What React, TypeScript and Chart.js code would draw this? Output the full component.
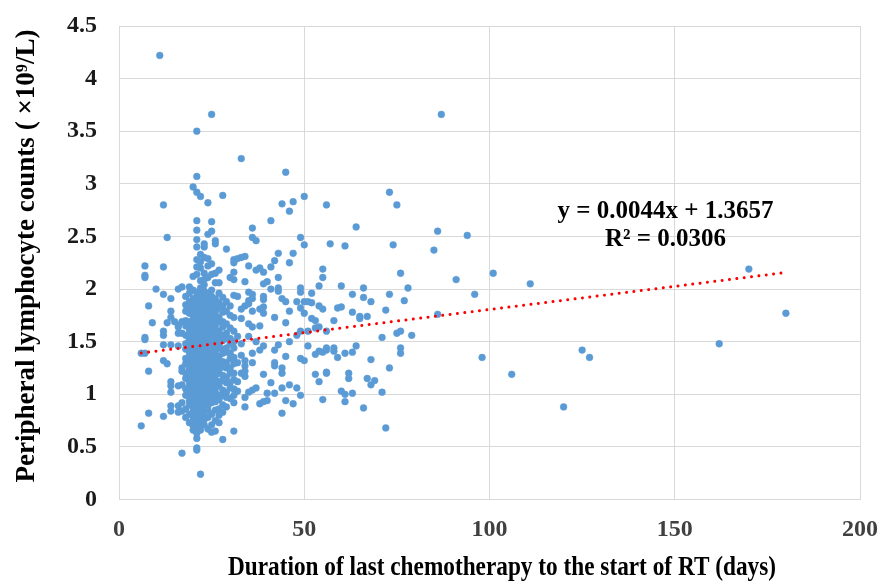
import React, { useEffect, useRef } from 'react';
import { Chart, registerables } from 'chart.js';

Chart.register(...registerables);

// ---- Data ----
// Scattered patients (days since last chemotherapy, lymphocyte count ×10^9/L)
const sparseDays = [
  11, 25, 21, 33, 45, 21, 20, 21, 22, 28,
  12, 24, 44, 47, 50, 46, 56, 21, 25, 41,
  36, 21, 25, 24, 13, 21, 36, 37, 26, 26,
  23, 23, 49, 50, 57, 29, 43, 47, 22, 21,
  24, 31, 32, 33, 34, 31, 42, 46, 7, 12,
  22, 35, 38, 37, 41, 27, 26, 31, 7, 7,
  25, 24, 39, 43, 55, 55, 30, 31, 34, 27,
  40, 39, 17, 16, 10, 41, 43, 43, 49, 49,
  52, 54, 12, 14, 31, 32, 35, 36, 36, 35,
  35, 39, 39, 44, 45, 48, 50, 51, 52, 8,
  34, 33, 39, 54, 55, 49, 50, 14, 38, 36,
  46, 14, 9, 39, 42, 33, 31, 52, 53, 13,
  15, 16, 17, 12, 16, 35, 36, 38, 45, 7,
  49, 51, 53, 56, 54, 7, 12, 16, 17, 6,
  7, 12, 14, 16, 12, 13, 8, 17, 17, 14,
  14, 14, 16, 17, 17, 16, 14, 14, 16, 17,
  8, 12, 6, 24, 25, 26, 28, 31, 21, 21,
  17, 22, 26, 27, 31, 34, 34, 35, 36, 37,
  38, 39, 40, 44, 45, 47, 49, 42, 40, 32,
  32, 34, 34, 34, 34, 36, 36, 39, 41, 44,
  46, 48, 42, 42, 44, 44, 39, 42, 43, 49,
  50, 51, 53, 55, 56, 53, 54, 56, 55, 32,
  33, 33, 32, 33, 37, 38, 35, 48, 46, 45,
  87, 73, 75, 64, 61, 74, 85, 86, 94, 60,
  66, 76, 78, 91, 101, 111, 96, 63, 66, 73,
  68, 77, 59, 60, 72, 63, 65, 65, 67, 86,
  58, 75, 76, 71, 79, 64, 54, 56, 58, 58,
  59, 61, 63, 76, 76, 68, 73, 98, 106, 56,
  62, 62, 67, 69, 68, 60, 61, 61, 63, 71,
  66, 72, 170, 180, 162, 125, 127, 120,
];
const sparseCounts = [
  4.22, 3.66, 3.50, 3.24, 3.11, 3.07, 2.97, 2.92, 2.88, 2.89,
  2.80, 2.82, 2.81, 2.83, 2.88, 2.74, 2.80, 2.65, 2.64, 2.65,
  2.58, 2.56, 2.55, 2.52, 2.49, 2.47, 2.49, 2.46, 2.46, 2.43,
  2.43, 2.40, 2.49, 2.42, 2.43, 2.38, 2.34, 2.34, 2.33, 2.28,
  2.29, 2.28, 2.29, 2.30, 2.31, 2.25, 2.27, 2.25, 2.22, 2.21,
  2.20, 2.22, 2.20, 2.18, 2.21, 2.18, 2.15, 2.16, 2.13, 2.11,
  2.14, 2.11, 2.16, 2.11, 2.19, 2.11, 2.11, 2.09, 2.07, 2.06,
  2.07, 2.05, 2.02, 2.00, 2.00, 2.00, 2.01, 1.98, 2.01, 1.97,
  1.96, 2.03, 1.95, 1.91, 1.94, 1.93, 1.97, 1.95, 1.91, 1.89,
  1.86, 1.93, 1.90, 1.91, 1.88, 1.88, 1.88, 1.88, 1.87, 1.84,
  1.84, 1.81, 1.83, 1.84, 1.81, 1.82, 1.77, 1.79, 1.81, 1.79,
  1.79, 1.73, 1.68, 1.77, 1.73, 1.72, 1.73, 1.72, 1.70, 1.68,
  1.69, 1.66, 1.69, 1.60, 1.64, 1.67, 1.64, 1.65, 1.68, 1.54,
  1.60, 1.60, 1.63, 1.60, 1.64, 1.52, 1.56, 1.58, 1.58, 1.39,
  1.39, 1.47, 1.47, 1.46, 1.32, 1.29, 1.22, 1.25, 1.22, 1.12,
  1.08, 1.02, 1.08, 1.09, 0.92, 0.89, 0.89, 0.84, 0.83, 0.84,
  0.82, 0.79, 0.70, 0.67, 0.64, 0.65, 0.57, 0.65, 0.49, 0.47,
  0.44, 0.24, 0.75, 0.73, 0.92, 0.88, 0.97, 1.02, 1.04, 1.06,
  0.91, 0.93, 0.94, 0.82, 0.94, 0.91, 0.99, 1.01, 1.01, 1.03,
  1.12, 1.17, 1.22, 1.27, 1.32, 1.30, 1.39, 1.19, 1.11, 1.06,
  1.09, 1.06, 1.30, 1.27, 1.25, 1.20, 1.46, 1.42, 1.47, 1.34,
  1.32, 1.46, 1.38, 1.40, 1.42, 1.19, 1.12, 1.20, 0.95, 1.55,
  1.48, 1.37, 1.30, 1.20, 1.50, 1.42, 1.55, 1.56, 1.50, 1.36,
  3.66, 2.92, 2.80, 2.59, 2.41, 2.42, 2.37, 2.55, 2.51, 2.03,
  2.01, 2.15, 2.01, 2.09, 2.15, 2.05, 1.95, 1.95, 1.92, 1.95,
  1.88, 1.89, 1.82, 1.83, 1.80, 1.78, 1.74, 1.72, 1.74, 1.76,
  1.70, 1.58, 1.60, 1.54, 1.56, 1.46, 1.41, 1.44, 1.44, 1.41,
  1.35, 1.39, 1.40, 1.44, 1.39, 1.33, 1.25, 1.35, 1.19, 1.21,
  1.20, 1.15, 1.15, 1.13, 1.09, 1.03, 1.00, 0.93, 1.01, 1.02,
  0.87, 0.68, 2.19, 1.77, 1.48, 1.42, 1.35, 0.88,
];

// Dense cluster, one list of counts per day
const day18Counts = [1.93, 1.85, 1.79, 1.70, 1.65, 1.56, 1.48, 1.43, 1.34, 1.29, 1.20, 1.15, 1.05, 0.99, 0.86, 0.78];
const day19Counts = [2.02, 1.96, 1.88, 1.83, 1.80, 1.77, 1.69, 1.64, 1.61, 1.57, 1.52, 1.48, 1.44, 1.40, 1.36, 1.32, 1.28, 1.24, 1.19, 1.15, 1.11, 1.07, 1.02, 0.98, 0.94, 0.90, 0.81, 0.73];
const day20Counts = [2.12, 1.99, 1.91, 1.87, 1.83, 1.79, 1.75, 1.71, 1.68, 1.64, 1.60, 1.56, 1.53, 1.49, 1.45, 1.42, 1.38, 1.35, 1.31, 1.27, 1.24, 1.20, 1.16, 1.12, 1.09, 1.05, 1.02, 0.98, 0.94, 0.90, 0.87, 0.83, 0.79, 0.75, 0.70, 0.66];
const day21Counts = [2.40, 2.21, 2.14, 1.97, 1.93, 1.89, 1.86, 1.82, 1.78, 1.75, 1.71, 1.67, 1.63, 1.59, 1.56, 1.53, 1.50, 1.46, 1.43, 1.39, 1.36, 1.33, 1.29, 1.26, 1.23, 1.19, 1.15, 1.12, 1.08, 1.05, 1.01, 0.97, 0.94, 0.91, 0.87, 0.83, 0.80, 0.76, 0.73, 0.68, 0.63, 0.58];
const day22Counts = [2.26, 2.08, 2.01, 1.97, 1.93, 1.89, 1.85, 1.81, 1.78, 1.74, 1.70, 1.67, 1.63, 1.59, 1.56, 1.52, 1.48, 1.45, 1.41, 1.38, 1.35, 1.31, 1.28, 1.24, 1.21, 1.17, 1.14, 1.10, 1.06, 1.03, 0.99, 0.95, 0.92, 0.88, 0.85, 0.81, 0.78, 0.74, 0.70, 0.66];
const day23Counts = [2.30, 2.15, 2.09, 2.04, 1.98, 1.94, 1.90, 1.85, 1.81, 1.77, 1.74, 1.70, 1.66, 1.62, 1.59, 1.55, 1.51, 1.47, 1.44, 1.41, 1.37, 1.33, 1.29, 1.25, 1.22, 1.18, 1.15, 1.11, 1.07, 1.04, 1.00, 0.96, 0.92, 0.88, 0.84, 0.80, 0.76, 0.71];
const day24Counts = [2.22, 1.96, 1.92, 1.88, 1.84, 1.80, 1.75, 1.72, 1.68, 1.64, 1.60, 1.56, 1.52, 1.49, 1.45, 1.41, 1.38, 1.34, 1.30, 1.27, 1.23, 1.19, 1.16, 1.12, 1.08, 1.04, 1.01, 0.97, 0.93, 0.89, 0.85, 0.78];
const day25Counts = [2.24, 1.99, 1.93, 1.89, 1.85, 1.81, 1.77, 1.73, 1.69, 1.65, 1.61, 1.57, 1.53, 1.49, 1.45, 1.41, 1.37, 1.34, 1.30, 1.26, 1.22, 1.19, 1.15, 1.11, 1.07, 1.03, 1.00, 0.96, 0.92, 0.81, 0.71];
const day26Counts = [2.06, 1.91, 1.87, 1.83, 1.78, 1.74, 1.69, 1.65, 1.61, 1.57, 1.53, 1.49, 1.45, 1.41, 1.38, 1.34, 1.30, 1.26, 1.22, 1.18, 1.14, 1.10, 1.06, 1.02, 0.98, 0.93, 0.85];
const day27Counts = [1.96, 1.87, 1.82, 1.73, 1.69, 1.60, 1.56, 1.52, 1.48, 1.44, 1.36, 1.32, 1.28, 1.24, 1.20, 1.12, 1.08, 0.99, 0.95, 0.86, 0.80];
const day28Counts = [1.92, 1.84, 1.78, 1.69, 1.64, 1.56, 1.51, 1.43, 1.39, 1.31, 1.26, 1.18, 1.13, 1.04, 0.99, 0.90, 0.83];
const day29Counts = [1.88, 1.79, 1.67, 1.58, 1.53, 1.44, 1.40, 1.30, 1.25, 1.16, 1.11, 1.02, 0.97, 0.88];
const day30Counts = [1.84, 1.75, 1.63, 1.53, 1.48, 1.39, 1.34, 1.25, 1.20, 1.11, 1.06, 0.96];
const day31Counts = [1.60, 1.50, 1.44, 1.35, 1.29, 1.20, 1.14, 1.05, 0.99];

const clusterDays = [18, 19, 20, 21, 22, 23, 24, 25, 26, 27, 28, 29, 30, 31];
const clusterCounts = [
  day18Counts, day19Counts, day20Counts, day21Counts, day22Counts, day23Counts, day24Counts,
  day25Counts, day26Counts, day27Counts, day28Counts, day29Counts, day30Counts, day31Counts,
];

// Linear trendline reported on the chart
const trendSlope = 0.0044;
const trendIntercept = 1.3657;
const equationLine1 = 'y = 0.0044x + 1.3657';
const equationLine2 = 'R² = 0.0306';

// Axis ranges / ticks
const xMin = 0, xMax = 200, xStep = 50;
const yMin = 0, yMax = 4.5, yStep = 0.5;
const xTitle = 'Duration of last chemotherapy to the start of RT (days)';
const yTitle = 'Peripheral lymphocyte counts ( ×10⁹/L)';

const SERIF = "'Liberation Serif', 'Times New Roman', serif";

const annotationPlugin = {
  id: 'annotations',
  afterDatasetsDraw(chart: any) {
    const { ctx, scales } = chart;
    const xs = scales.x, ys = scales.y;
    ctx.save();
    ctx.font = `bold 25px ${SERIF}`;
    ctx.fillStyle = '#000000';
    ctx.textAlign = 'center';
    ctx.textBaseline = 'middle';
    ctx.fillText(equationLine1, xs.getPixelForValue(147.5), ys.getPixelForValue(2.74));
    ctx.fillText(equationLine2, xs.getPixelForValue(147.5), ys.getPixelForValue(2.47));
    ctx.restore();
  },
  afterDraw(chart: any) {
    const { ctx } = chart;
    ctx.save();
    ctx.font = `bold 27px ${SERIF}`;
    ctx.fillStyle = '#000000';
    ctx.textAlign = 'center';
    ctx.textBaseline = 'middle';
    const wx = ctx.measureText(xTitle).width;
    ctx.translate(502, 568);
    ctx.scale(548 / wx, 1);
    ctx.fillText(xTitle, 0, 0);
    ctx.restore();

    ctx.save();
    ctx.font = `bold 27px ${SERIF}`;
    ctx.fillStyle = '#000000';
    ctx.textAlign = 'center';
    ctx.textBaseline = 'middle';
    const wy = ctx.measureText(yTitle).width;
    ctx.translate(27, 256);
    ctx.rotate(-Math.PI / 2);
    ctx.scale(453 / wy, 1);
    ctx.fillText(yTitle, 0, 0);
    ctx.restore();
  },
};

export default function App() {
  const canvasRef = useRef<HTMLCanvasElement>(null);

  useEffect(() => {
    const days: number[] = [...sparseDays];
    const counts: number[] = [...sparseCounts];
    clusterDays.forEach((d, i) => {
      clusterCounts[i].forEach((v) => {
        days.push(d);
        counts.push(v);
      });
    });
    const points = days.map((d, i) => ({ x: d, y: counts[i] }));
    const minDay = Math.min(...days);
    const maxDay = Math.max(...days);
    const trend = [
      { x: minDay, y: trendIntercept + trendSlope * minDay },
      { x: maxDay, y: trendIntercept + trendSlope * maxDay },
    ];

    const tickFont = { family: SERIF, size: 24, weight: 'bold' as const };
    const chart = new Chart(canvasRef.current!, {
      type: 'scatter',
      data: {
        datasets: [
          {
            type: 'line',
            data: trend,
            borderColor: '#ff0000',
            borderWidth: 3,
            borderDash: [0.01, 7.4],
            borderCapStyle: 'round',
            pointRadius: 0,
            fill: false,
            order: 0,
          } as any,
          {
            type: 'scatter',
            data: points,
            pointRadius: 3.4,
            pointHoverRadius: 3.4,
            backgroundColor: '#5b9bd5',
            borderColor: '#5b9bd5',
            borderWidth: 0.5,
            order: 1,
          } as any,
        ],
      },
      options: {
        animation: false,
        responsive: false,
        devicePixelRatio: 1,
        layout: { padding: { top: 26, right: 20, left: 0, bottom: 0 } },
        plugins: { legend: { display: false }, tooltip: { enabled: false } },
        scales: {
          x: {
            type: 'linear',
            min: xMin,
            max: xMax,
            ticks: { stepSize: xStep, color: '#404040', font: tickFont, padding: 16 },
            grid: { color: '#d9d9d9', drawTicks: false },
            border: { color: '#d9d9d9' },
            title: { display: false },
            afterFit: (s: any) => {
              s.height = 82.5;
              s.paddingLeft = 0;
              s.paddingRight = 0;
            },
          },
          y: {
            type: 'linear',
            min: yMin,
            max: yMax,
            ticks: {
              stepSize: yStep,
              color: '#1a1a1a',
              font: tickFont,
              padding: 22,
              callback: (v: any) => String(Number(Number(v).toFixed(1))),
            },
            grid: { color: '#d9d9d9', drawTicks: false },
            border: { color: '#d9d9d9' },
            title: { display: false },
            afterFit: (s: any) => {
              s.width = 119;
              s.paddingTop = 0;
              s.paddingBottom = 0;
            },
          },
        },
      } as any,
      plugins: [annotationPlugin],
    });
    return () => chart.destroy();
  }, []);

  return (
    <div style={{ position: 'absolute', left: 0, top: 0, width: 880, height: 582, background: '#ffffff' }}>
      <canvas ref={canvasRef} width={880} height={582} style={{ width: 880, height: 582 }} />
    </div>
  );
}
